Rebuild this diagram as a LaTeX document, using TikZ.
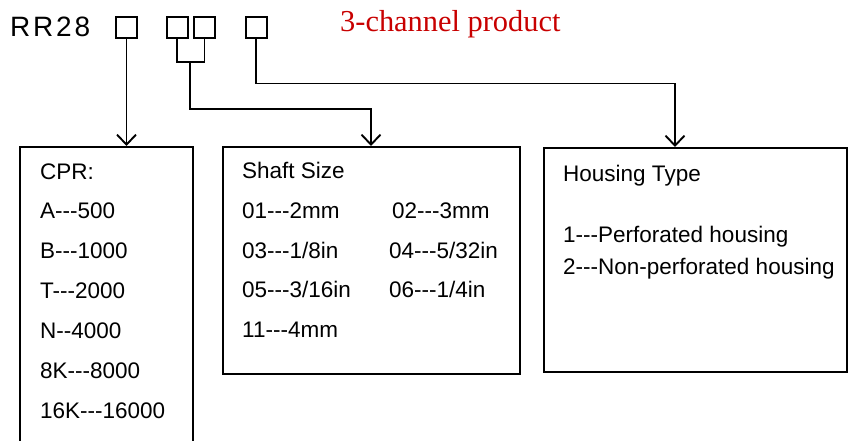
\documentclass[tikz,border=0pt]{standalone}
\usepackage{fontspec}
\setmainfont{Liberation Sans}[Ligatures=TeXOff]
\newfontfamily\serifred{Liberation Serif}
\newfontfamily\spacedsans{Liberation Sans}[LetterSpace=10]
\usetikzlibrary{arrows.meta,calc}
\definecolor{titlered}{RGB}{200,0,0}
\tikzset{
  sq/.style={draw, line width=2pt, minimum size=21pt, inner sep=0pt},
  bigbox/.style={draw, line width=2.2pt, inner sep=0pt},
  conn/.style={line width=1.9pt},
  arr/.style={line width=1.9pt, -{Straight Barb[length=10pt,width=19pt,line width=1.9pt]}},
  txt/.style={anchor=base west, inner sep=0pt, font=\fontsize{22.5}{27}\selectfont},
}
\begin{document}
\begin{tikzpicture}[x=1pt,y=-1pt]
\useasboundingbox (0,0) rectangle (848,441);
% header
\node[anchor=base west, inner sep=0pt, font=\spacedsans\fontsize{28}{32}\selectfont] (rr) at (10,37) {RR28};
\node[anchor=base west, inner sep=0pt, text=titlered, font=\serifred\fontsize{30.4}{34}\selectfont] (title) at (340,31.5) {3-channel product};
\node[sq] (s1) at (126.5,27.5) {};
\node[sq] (s2) at (177,27.5) {};
\node[sq] (s3) at (204.5,27.5) {};
\node[sq] (s4) at (256,27.5) {};
% boxes
\node[bigbox, minimum width=173pt, minimum height=320pt, anchor=north west] (cpr) at (19,146) {};
\node[bigbox, minimum width=297pt, minimum height=227pt, anchor=north west] (shaft) at (222,146) {};
\node[bigbox, minimum width=303pt, minimum height=224pt, anchor=north west] (house) at (543,147) {};
% connectors
\draw[arr] (s1.south) -- (s1.south |- cpr.north);
\draw[conn] (s2.south) -- ++(0,23) -| (s3.south);
\coordinate (m) at (190,61.5);
\coordinate (mturn) at (371,109);
\draw[arr] (m) |- (mturn) -- (mturn |- shaft.north);
\coordinate (hturn) at (675,83.5);
\draw[arr] (s4.south) |- (hturn) -- (hturn |- house.north);
% CPR texts
\node[txt] (c0) at (40,179) {CPR:};
\node[txt] (c1) at (40,218) {A---500};
\node[txt] (c2) at (40,258) {B---1000};
\node[txt] (c3) at (40,298) {T---2000};
\node[txt] (c4) at (40,338) {N--4000};
\node[txt] (c5) at (40,378) {8K---8000};
\node[txt] (c6) at (40,418) {16K---16000};
% shaft texts
\node[txt] (h0) at (242,178) {Shaft Size};
\node[txt] (h1) at (242,218) {01---2mm};
\node[txt] (h2) at (392,218) {02---3mm};
\node[txt] (h3) at (242,258) {03---1/8in};
\node[txt] (h4) at (389,258) {04---5/32in};
\node[txt] (h5) at (242,297) {05---3/16in};
\node[txt] (h6) at (389,297) {06---1/4in};
\node[txt] (h7) at (242,337) {11---4mm};
% housing texts
\node[txt] (g0) at (563,181) {Housing Type};
\node[txt] (g1) at (563,242) {1---Perforated housing};
\node[txt] (g2) at (563,274) {2---Non-perforated housing};
\end{tikzpicture}
\end{document}
